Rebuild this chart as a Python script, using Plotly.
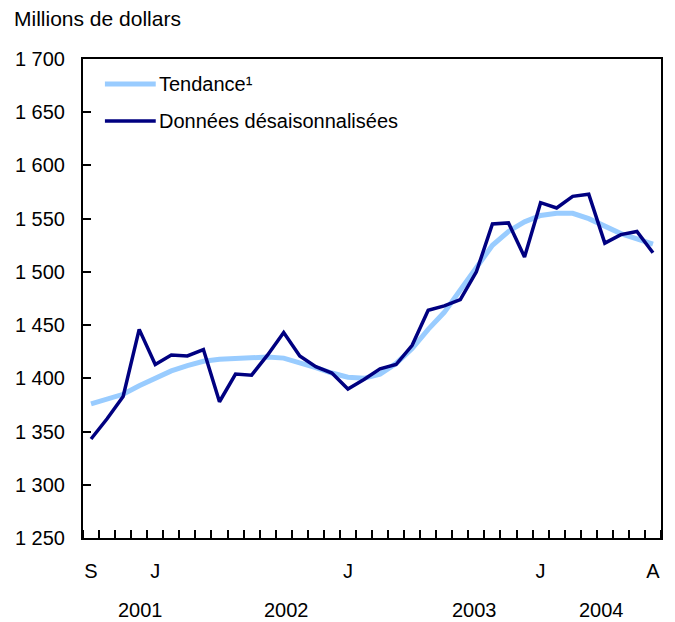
import plotly.graph_objects as go

# Data (monthly, Sept 2001 .. Aug 2004)
months = list(range(36))
trend = [1376, 1380, 1385, 1393, 1400, 1407, 1412, 1416, 1418, 1419, 1420, 1420,
         1419, 1415, 1410, 1405, 1401, 1400, 1404, 1414, 1428, 1446, 1462, 1483,
         1505, 1525, 1538, 1547, 1553, 1555, 1555, 1550, 1543, 1536, 1531, 1526]
seasonal = [1343, 1362, 1383, 1446, 1413, 1422, 1421, 1427, 1378, 1404, 1403, 1422,
            1443, 1421, 1411, 1405, 1390, 1399, 1409, 1413, 1431, 1464, 1468, 1474,
            1500, 1545, 1546, 1514, 1565, 1560, 1571, 1573, 1527, 1535, 1538, 1518]
month_tick_pos = [0, 4, 16, 28, 35]
month_tick_text = ["S", "J", "J", "J", "A"]
year_pos = [3.1, 12.2, 23.9, 31.8]
year_text = ["2001", "2002", "2003", "2004"]
series_names = ["Tendance¹", "Données désaisonnalisées"]

FONT = "Arial, Liberation Sans, sans-serif"
LIGHT = "#99ccff"
DARK = "#000080"

fig = go.Figure()
fig.add_trace(go.Scatter(x=months, y=trend, mode="lines", name=series_names[0],
                         line=dict(color=LIGHT, width=5), showlegend=False))
fig.add_trace(go.Scatter(x=months, y=seasonal, mode="lines", name=series_names[1],
                         line=dict(color=DARK, width=3.5), showlegend=False))

W, H = 675, 622
L, R, T, B = 83, 12, 59, 84
pw, ph = W - L - R, H - T - B

def px_x(x):
    return (x - L) / pw

def px_y(y):
    return (H - B - y) / ph

# manual legend
for i, (name, col, wdt) in enumerate([(series_names[0], LIGHT, 5), (series_names[1], DARK, 3.5)]):
    yy = px_y(84 + i * 37)
    fig.add_shape(type="line", xref="paper", yref="paper", x0=px_x(105), x1=px_x(156),
                  y0=yy, y1=yy, line=dict(color=col, width=wdt))
    fig.add_annotation(xref="paper", yref="paper", x=px_x(157), y=yy, text=name,
                       showarrow=False, xanchor="left", yanchor="middle",
                       font=dict(family=FONT, size=20, color="black"))

for xp, t in zip(year_pos, year_text):
    fig.add_annotation(xref="x", yref="paper", x=xp, y=px_y(610), text=t,
                       showarrow=False, xanchor="center", yanchor="middle",
                       font=dict(family=FONT, size=20, color="black"))

fig.add_annotation(xref="paper", yref="paper", x=px_x(12), y=px_y(18),
                   text="Millions de dollars", showarrow=False, xanchor="left",
                   yanchor="middle", font=dict(family=FONT, size=21, color="black"))

fig.update_xaxes(range=[-0.5, 35.5], tickvals=month_tick_pos, ticktext=month_tick_text,
                 ticks="", showgrid=False, zeroline=False, showline=True, mirror=True,
                 linecolor="black", linewidth=2,
                 minor=dict(ticks="inside", tick0=0.5, dtick=1, ticklen=8,
                            tickcolor="black", tickwidth=1.5, showgrid=False),
                 tickfont=dict(family=FONT, size=20, color="black"), ticklabelstandoff=14)
fig.update_yaxes(range=[1250, 1700], dtick=50, tick0=1250, ticks="inside", ticklen=8,
                 tickcolor="black", tickwidth=1.5, showgrid=False, zeroline=False,
                 showline=True, mirror=True, linecolor="black", linewidth=2,
                 separatethousands=True, tickformat=",d",
                 tickfont=dict(family=FONT, size=20, color="black"), ticklabelstandoff=12)

fig.update_layout(width=W, height=H, margin=dict(l=L, r=R, t=T, b=B),
                  paper_bgcolor="white", plot_bgcolor="white", separators=". ",
                  font=dict(family=FONT, size=20, color="black"))
fig.write_html("out.html", config={"displayModeBar": False},
               post_script="document.body.style.margin='0px';")
